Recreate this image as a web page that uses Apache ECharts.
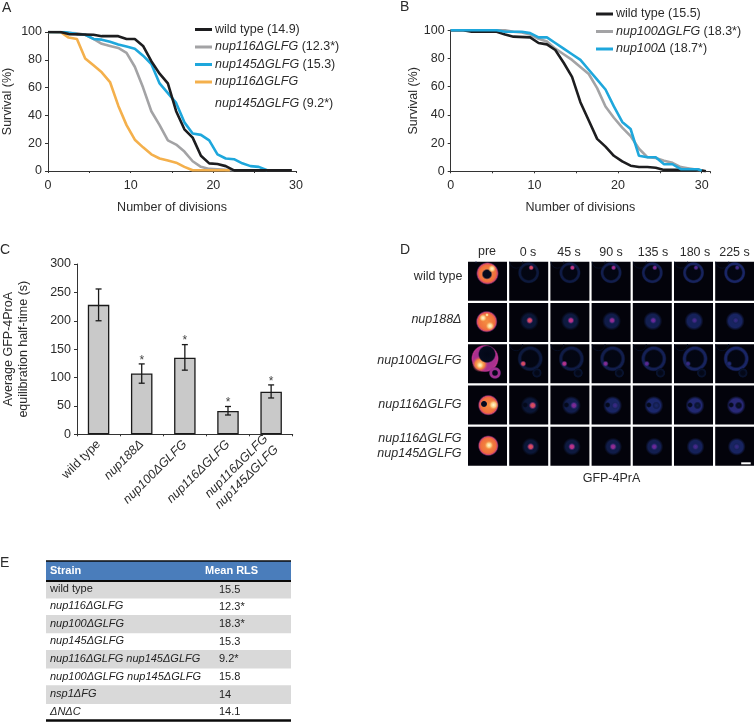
<!DOCTYPE html>
<html><head><meta charset="utf-8">
<style>html,body{margin:0;padding:0;background:#fff}#c{width:754px;height:723px}</style>
<script src="https://cdn.jsdelivr.net/npm/echarts@6/dist/echarts.min.js"></script>
</head><body><div id="c"></div>
<script>
// Panel A survival curves [divisions, survival %]
const wildA=[[0,100],[1.5,100],[2.5,98.5],[5.5,98],[6.5,97],[8.5,97],[9.5,95],[10.5,95],[11.5,90],[12.5,79],[13.5,70],[14.5,63],[15.5,43],[16.5,30],[17.5,24],[18.5,11],[19.5,5.5],[20.5,5],[21.5,3.5],[22.5,0.5],[29.5,0.5]];
const nup116A=[[0,100],[3.5,99],[4.5,98],[5.5,95],[6.5,91.5],[7.5,90],[8.5,88.5],[9.5,85],[10.5,75],[11.5,60],[12.5,43],[13.5,33],[14.5,22],[15.5,19],[16.5,14],[17.5,7],[18.5,3],[19.5,1.5],[22.5,0.5]];
const nup145A=[[0,100],[2,100],[3.5,98.5],[4.5,98],[5.5,95],[6.5,94.5],[7.5,93],[8.5,91],[9.5,89.5],[10.5,88],[11.5,83],[12.5,77],[13.5,63],[14.5,56],[15.5,49],[16.5,35],[17.5,27],[18.5,26],[19.5,22],[20.5,12],[21.5,9],[22.5,8.5],[23.5,5.5],[24.5,3.5],[25.5,3],[26.5,0.5]];
const doubleA=[[0,100],[1.5,100],[2.5,96],[3.5,95],[4.5,81],[5.5,76],[6.5,71],[7.5,64],[8.5,47],[9.5,33],[10.5,22.5],[11.5,17],[12.5,12],[13.5,9],[14.5,7.5],[15.5,6],[16.5,3],[17.5,0.5],[22,0.5]];
// Panel B survival curves
const wildB=[[0,100],[1.5,100],[2.5,99],[5.5,99],[6.5,97],[7.5,95.5],[9.5,95],[10.5,91],[11.5,90],[12.5,86],[13.5,77],[14.5,67],[15.5,49],[16.5,36],[17.5,23],[18.5,17.5],[19.5,11],[20.5,7],[21.5,4],[22.5,3],[23.5,3],[24.5,2.5],[25.5,1],[29.5,1],[30.5,0]];
const nup100GB=[[0,100],[6.5,100],[7.5,99],[8.5,98.5],[9.5,97],[10.5,94],[11.5,92],[12.5,87],[13.5,83],[14.5,79],[15.5,74],[16.5,69],[17.5,59],[18.5,46],[19.5,38],[20.5,31],[21.5,25],[22.5,16],[23.5,10],[24.5,9.5],[25.5,7.5],[26.5,6],[27.5,3],[28.5,2],[29.5,1],[30.5,0]];
const nup100B=[[0,100],[5.5,100],[6.5,99],[8.5,99],[9.5,98],[10.5,95],[11.5,95],[12.5,91],[13.5,87],[14.5,83],[15.5,79],[16.5,72],[17.5,65],[18.5,58],[19.5,46],[20.5,35],[21.5,30],[22.5,11],[23.5,10],[24.5,10],[25.5,5],[26.5,5],[27.5,1.5],[28.5,1.5],[29.5,1.5],[30,0.5]];
// Panel C
const strainsC=['wild type','{i|nup188Δ}','{i|nup100ΔGLFG}','{i|nup116ΔGLFG}','{i|nup116ΔGLFG}\n{i|nup145ΔGLFG}'];
const halfTimes=[228,107,135,41,75];
const errLow=[200,90,113,34,64];
const errHigh=[256,124,158,49,87];
const starred=[false,true,true,true,true];
// Panel D
const timeLabels=['pre','0 s','45 s','90 s','135 s','180 s','225 s'];
const rowLabels=[['wild type'],['{i|nup188Δ}'],['{i|nup100ΔGLFG}'],['{i|nup116ΔGLFG}'],['{i|nup116ΔGLFG}','{i|nup145ΔGLFG}']];
// Panel E
const tableHead=['Strain','Mean RLS'];
const tableStrains=['wild type','{i|nup116ΔGLFG}','{i|nup100ΔGLFG}','{i|nup145ΔGLFG}','{i|nup116ΔGLFG nup145ΔGLFG}','{i|nup100ΔGLFG nup145ΔGLFG}','{i|nsp1ΔFG}','{i|ΔNΔC}'];
const tableRLS=['15.5','12.3*','18.3*','15.3','9.2*','15.8','14','14.1'];

const FONT='"Liberation Sans",Arial,sans-serif', TXT='#2b2b2b', FS=12.5;
const italic={i:{fontStyle:'italic',fontFamily:FONT,fontSize:FS,color:TXT}};
const BLACK='#1d1d1f',GRAY='#a3a3a5',BLUE='#1ea7dc',ORANGE='#f4b04c';

function lineSeries(name,data,color,idx){
  return {type:'line',name,data,xAxisIndex:idx,yAxisIndex:idx,symbol:'none',smooth:false,
    lineStyle:{color,width:2.6},itemStyle:{color},z:3};
}
function survX(grid,max){return {gridIndex:grid,type:'value',min:0,max,interval:5,name:'Number of divisions',nameLocation:'middle',nameGap:30,
  nameTextStyle:{fontFamily:FONT,fontSize:FS,color:TXT},splitLine:{show:false},
  axisLine:{onZero:false,lineStyle:{color:'#333',width:1}},axisTick:{length:2,lineStyle:{color:'#333'}},
  axisLabel:{fontFamily:FONT,fontSize:FS,color:TXT,margin:8,showMaxLabel:true,formatter:v=>v%10===0?String(v):''}};}
function survY(grid,gap){return {gridIndex:grid,type:'value',min:0,max:100,interval:20,name:'Survival (%)',nameLocation:'middle',nameGap:gap,
  nameTextStyle:{fontFamily:FONT,fontSize:FS,color:TXT},splitLine:{show:false},
  axisLine:{show:true,lineStyle:{color:'#333',width:1}},axisTick:{show:true,length:3,lineStyle:{color:'#333'}},
  axisLabel:{fontFamily:FONT,fontSize:FS,color:TXT,margin:6}};}
function legendFmt(n){
  if(n.startsWith('wild'))return n;
  if(n.includes(' nup145'))return '{i|nup116ΔGLFG}';
  return n.replace(/^(\S+)/,'{i|$1}');
}
function mkLegend(names,left,top,gap){return {data:names,orient:'vertical',left,top,itemWidth:17,itemHeight:3,itemGap:gap,icon:'rect',selectedMode:false,
  padding:0,textStyle:{fontFamily:FONT,fontSize:FS,color:TXT,padding:[0,0,0,-2],rich:italic},formatter:legendFmt};}

const namesA=['wild type (14.9)','nup116ΔGLFG (12.3*)','nup145ΔGLFG (15.3)','nup116ΔGLFG nup145ΔGLFG (9.2*)'];
const namesB=['wild type (15.5)','nup100ΔGLFG (18.3*)','nup100Δ (18.7*)'];

// --- Panel D drawing ---------------------------------------------------
const stops=[[0,[0,0,8]],[.12,[10,22,52]],[.25,[28,40,110]],[.4,[90,40,150]],[.55,[190,50,140]],[.7,[238,100,60]],[.85,[250,180,70]],[1,[255,250,215]]];
function cmap(v,a){v=Math.max(0,Math.min(1,v));let i=0;while(i<stops.length-2&&v>stops[i+1][0])i++;
  const [p,c]=stops[i],[q,d]=stops[i+1],t=(v-p)/(q-p);
  const m=c.map((x,k)=>Math.round(x+(d[k]-x)*t));return `rgba(${m[0]},${m[1]},${m[2]},${a==null?1:a})`;}
function blob(x,y,rx,ry,gs,rot){
  return {type:'ellipse',x,y,originX:0,originY:0,rotation:rot||0,silent:true,shape:{cx:0,cy:0,rx,ry},
    style:{fill:new echarts.graphic.RadialGradient(.5,.5,.5,gs.map(([o,v,a])=>({offset:o,color:cmap(v,a)})))}};
}
const soft=(v)=>[[0,v,1],[.55,v,.95],[1,v,0]];
const ring=(v,h)=>[[0,.02,.9],[h,.02,.9],[h+.14,v,1],[.85,v,1],[1,v,0]];
// relative geometry of each cell: body, hole, spot, bud
const cells=[
 {b:[19.5,11,11,11],ring:.62,spot:[22,6,4.5,2.8,0],decay:.9},
 {b:[20,18,9.5,11.5],spot:[20.5,17.5,3.6,4.6,0],decay:.88},
 {b:[21,14.5,13,13],ring:.6,spot:[14,19.5,6.5,3.2,.6],bud:[27.7,28.7,5],decay:.86},
 {b:[21,20,13.5,9.5],hole:[16,19.5,3.4,3],spot:[23.5,20,4,4,0],decay:.72},
 {b:[21.5,20,9,9.5],spot:[21.5,20,3.8,4.2,0],decay:.88},
];
const pre=[
 {b:[19.5,11.7,11.5,11.5],hole:[19,12.5,5.5,5.5],hi:[[24,7,6,4,.5]]},
 {b:[18.7,18.7,11,12.5],hi:[[15,15,4,4,0],[22,23,4.5,5,0],[19,12,4,2,0]]},
 {b:[17,14.3,14,14],hole:[19,10,10,9],hi:[[12,21,7,4,.6]],bud:[27,28.7,5.3]},
 {b:[20.3,19.7,13.5,10.5],hole:[16,18.5,4,3.5],hi:[[25.5,19.5,5,5.5,0]]},
 {b:[20.3,19,10.5,11.5],hi:[[21,18.5,4.5,5.5,0]]},
];
function panel(r,c){
  const e=[];
  const px=468+Math.round(41.2*c*10)/10, py=261.7+41.25*r;
  e.push({type:'rect',shape:{x:0,y:0,width:39,height:39},style:{fill:'#03030b'},silent:true});
  if(c===0){
    const p=pre[r],[x,y,rx,ry]=p.b;
    e.push(blob(x,y,rx,ry,r===2?[[0,.5,1],[.8,.52,1],[.9,.55,1],[1,.5,0]]:[[0,.78,1],[.72,.72,1],[.86,.62,1],[1,.4,0]]));
    if(r===2) e.push(blob(12,20,10,8,[[0,.9,1],[.6,.75,1],[1,.6,0]],.6));
    if(p.hole){const [a,b,c2,d]=p.hole;e.push(blob(a,b,c2,d,r===2?[[0,.04,1],[.84,.06,1],[1,.1,0]]:[[0,.06,1],[.7,.06,1],[1,.2,0]]));}
    p.hi.forEach(([a,b,c2,d,rot])=>e.push(blob(a,b,c2,d,[[0,1,1],[.5,.92,.9],[1,.8,0]],rot)));
    if(r===0){e.push(blob(8,0.5,6,1.5,[[0,.25,.6],[1,.15,0]]));}
    if(p.bud){const [a,b,q]=p.bud;e.push(blob(a,b,q+1,q+1,[[0,.04,1],[.35,.05,1],[.55,.5,1],[.8,.5,1],[1,.45,0]]));}
  } else {
    const g=cells[r],[x,y,rx,ry]=g.b,k=c-1;
    const dim=.11+.018*k+(r===3?.03*Math.min(k,2):0);
    if(g.ring){
      e.push(blob(x,y,rx,ry,[[0,.03,.9],[.62,.03,.9],[.75,dim+.03,1],[.88,dim+.03,1],[1,dim,0]]));
    } else {
      e.push(blob(x,y,rx,ry,[[0,dim+.02,1],[.7,dim+.02,1],[1,dim,0]]));
    }
    if(g.hole){const [a,b,c2,d]=g.hole;e.push(blob(a,b,c2,d,soft(.05)));}
    if(r===0||r===2){e.push({type:'arc',silent:true,shape:{cx:7,cy:0,r:6.5,startAngle:0,endAngle:Math.PI,clockwise:true},style:{stroke:cmap(.07),fill:'none',lineWidth:1}});}
    if(g.bud){const [a,b,q]=g.bud;e.push(blob(a,b,q,q,[[0,.04,.9],[.45,.05,.9],[.65,.1,1],[.85,.1,1],[1,.08,0]]));}
    const sv=.66*Math.pow(g.decay,k)-(k>3?.02:0);
    const [a,b,c2,d,rot]=g.spot;
    e.push(blob(a,b,c2,d,[[0,sv,1],[.5,sv-.05,.95],[1,sv-.2,0]],rot));
  }
  if(r===4&&c===6) e.push({type:'rect',silent:true,shape:{x:26,y:35.6,width:9.5,height:2},style:{fill:'#fff'}});
  return {type:'group',x:px,y:py,children:e};
}
function label(text,x,y,opts){
  return Object.assign({type:'text',x,y,silent:true,style:Object.assign({text,fill:TXT,font:`${FS}px ${FONT}`,fontFamily:FONT,fontSize:FS,align:'left',verticalAlign:'middle',rich:italic},opts||{})});
}
const graphics=[];
[['A',2,8],['B',400,7],['C',0,250],['D',400,250],['E',0,563]].forEach(([t,x,y])=>graphics.push(label(t,x,y,{fontSize:14,font:`14px ${FONT}`})));
graphics.push(label('{i|nup145ΔGLFG} (9.2*)',215,104));
timeLabels.forEach((t,c)=>graphics.push(label(t,[487,528,569,611,653,695,734.5][c],c===0?252:253,{align:'center'})));
const rowY=[[277],[320],[361],[404.5],[439,454]];
rowLabels.forEach((ls,r)=>ls.forEach((t,j)=>graphics.push(label(t,r===0?462.5:461.5,rowY[r][j],{align:'right'}))));
for(let r=0;r<5;r++)for(let c=0;c<7;c++)graphics.push(panel(r,c));
graphics.push(label('GFP-4PrA',611.5,479,{align:'center'}));

// --- Panel E table -----------------------------------------------------
const T={l:46,r:291,top:561,head:581,rows:[581,598.6,615,633.3,650,668.6,685.3,704,720]};
const smallRich={i:{fontStyle:'italic',fontFamily:FONT,fontSize:11,color:'#222'}};
graphics.push({type:'rect',silent:true,shape:{x:T.l,y:T.top,width:T.r-T.l,height:T.head-T.top},style:{fill:'#4a7dbb'}});
tableStrains.forEach((s,i)=>{
  if(i%2===0)graphics.push({type:'rect',silent:true,shape:{x:T.l,y:T.rows[i],width:T.r-T.l,height:T.rows[i+1]-T.rows[i]},style:{fill:'#d9d9d9'}});
});
[[T.top,1.6],[T.head,2],[T.rows[8]+.5,2.4]].forEach(([y,w])=>graphics.push({type:'line',silent:true,shape:{x1:T.l,y1:y,x2:T.r,y2:y},style:{stroke:'#0a0a0a',lineWidth:w}}));
graphics.push(label(tableHead[0],50,571,{fill:'#fff',fontSize:11,fontWeight:'bold',font:`bold 11px ${FONT}`}));
graphics.push(label(tableHead[1],205,571,{fill:'#fff',fontSize:11,fontWeight:'bold',font:`bold 11px ${FONT}`}));
tableStrains.forEach((s,i)=>{
  const y=(T.rows[i]+T.rows[i+1])/2-.5;
  graphics.push(label(s,50,y,{fill:'#222',fontSize:11,font:`11px ${FONT}`,rich:smallRich}));
  graphics.push(label(tableRLS[i],219,y+.5,{fill:'#222',fontSize:11,font:`11px ${FONT}`}));
});

const option={
  animation:false,backgroundColor:'#fff',
  textStyle:{fontFamily:FONT},
  grid:[
    {left:48,width:248,top:32,height:139,containLabel:false},
    {left:450.7,width:259.4,top:30.3,height:141,containLabel:false},
    {left:75.7,width:217,top:264,height:170.3,containLabel:false},
  ],
  xAxis:[survX(0,30),survX(1,31),
    {gridIndex:2,type:'category',data:strainsC,axisLine:{lineStyle:{color:'#333',width:1}},
     axisTick:{show:true,alignWithLabel:false,length:2,lineStyle:{color:'#333'}},
     axisLabel:{rotate:45,fontFamily:FONT,fontSize:FS,color:TXT,interval:0,margin:8,rich:italic,lineHeight:15}}],
  yAxis:[survY(0,34),survY(1,31),
    {gridIndex:2,type:'value',min:0,max:300,interval:50,name:'Average GFP-4ProA\nequilibration half-time (s)',nameLocation:'middle',nameGap:46,
     nameTextStyle:{fontFamily:FONT,fontSize:FS,color:TXT,lineHeight:15},splitLine:{show:false},
     axisLine:{show:true,lineStyle:{color:'#333',width:1}},axisTick:{show:true,length:3,lineStyle:{color:'#333'}},
     axisLabel:{fontFamily:FONT,fontSize:FS,color:TXT,margin:6}}],
  legend:[mkLegend(namesA,195,23,4.5),mkLegend(namesB,596,7.5,4.5)],
  series:[
    lineSeries(namesA[1],nup116A,GRAY,0),
    lineSeries(namesA[3],doubleA,ORANGE,0),
    lineSeries(namesA[2],nup145A,BLUE,0),
    lineSeries(namesA[0],wildA,BLACK,0),
    lineSeries(namesB[1],nup100GB,GRAY,1),
    lineSeries(namesB[0],wildB,BLACK,1),
    lineSeries(namesB[2],nup100B,BLUE,1),
    {type:'bar',xAxisIndex:2,yAxisIndex:2,data:halfTimes,barWidth:21.5,itemStyle:{color:'#c9c9c9',borderColor:'#1a1a1a',borderWidth:1.3}},
    {type:'custom',xAxisIndex:2,yAxisIndex:2,z:5,silent:true,
     data:halfTimes.map((v,i)=>[i,errLow[i],errHigh[i],starred[i]?1:0]),
     encode:{x:0,y:[1,2]},
     renderItem(params,api){
       const x=api.coord([api.value(0),0])[0],yl=api.coord([0,api.value(1)])[1],yh=api.coord([0,api.value(2)])[1];
       const st={stroke:'#1a1a1a',lineWidth:1.3};const cap=3;
       const ch=[
         {type:'line',shape:{x1:x,y1:yl,x2:x,y2:yh},style:st},
         {type:'line',shape:{x1:x-cap,y1:yl,x2:x+cap,y2:yl},style:st},
         {type:'line',shape:{x1:x-cap,y1:yh,x2:x+cap,y2:yh},style:st}];
       if(api.value(3))ch.push({type:'text',style:{text:'*',x,y:yh-3.5,align:'center',verticalAlign:'middle',fill:'#444',font:`12px ${FONT}`}});
       return {type:'group',children:ch};
     }}
  ],
  graphic:{elements:graphics}
};
const chart=echarts.init(document.getElementById('c'),null,{renderer:'canvas',width:754,height:723});
chart.setOption(option);
</script></body></html>
